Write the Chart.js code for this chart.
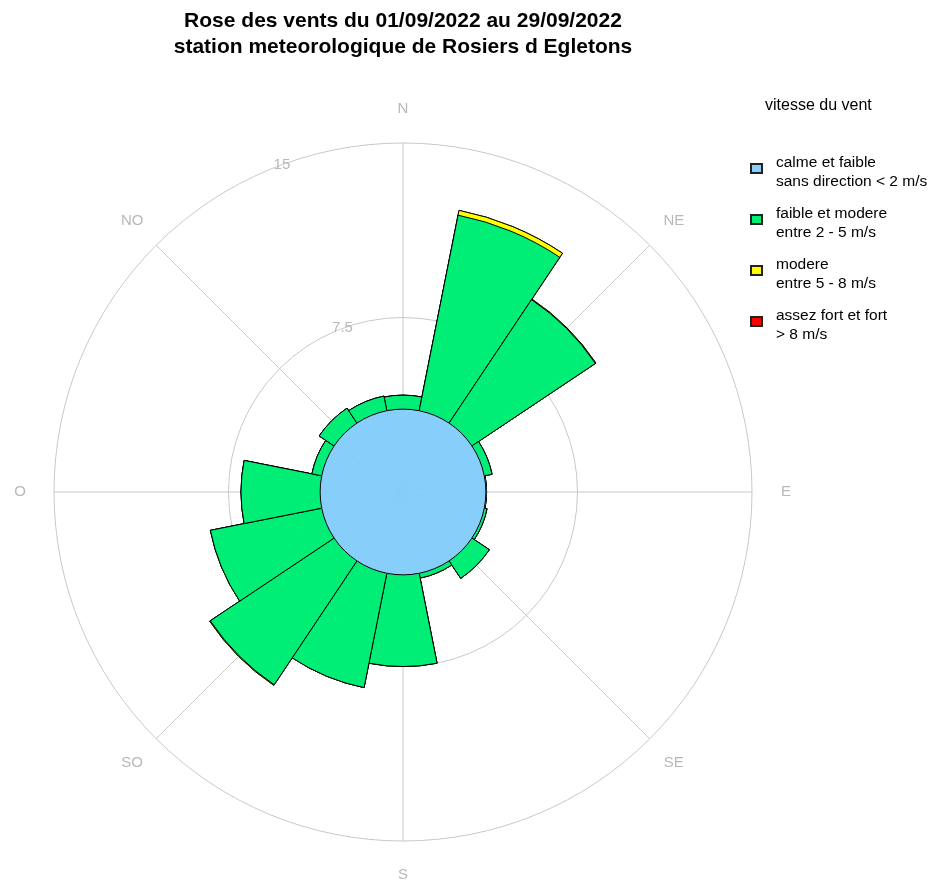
<!DOCTYPE html>
<html>
<head>
<meta charset="utf-8">
<title>Rose des vents</title>
<script src="https://cdn.jsdelivr.net/npm/chart.js@4.4.1/dist/chart.umd.min.js"></script>
<style>
  body { margin: 0; background: #fff; }
  #wrap { position: relative; width: 932px; height: 884px; }
  #legend { position: absolute; left: 750px; top: 95px; font-family: "Liberation Sans", Arial, sans-serif; color: #000; }
  #legend .head { position: absolute; left: 15px; top: 0; font-size: 16px; line-height: 19px; white-space: nowrap; }
  #legend .item { position: absolute; left: 0; width: 180px; }
  #legend .sw { position: absolute; left: 0; top: 11px; width: 9px; height: 7px; border: 2px solid #222; }
  #legend .txt { position: absolute; left: 26px; top: 0; font-size: 15.5px; line-height: 19px; white-space: nowrap; }
</style>
</head>
<body>
<div id="wrap">
  <canvas id="rose" width="932" height="884"></canvas>
  <div id="legend"><div class="head">vitesse du vent</div></div>
</div>
<script>
// secteurs de 22.5 degres, dans le sens horaire depuis le nord
var directions = ["N", "NNE", "NE", "ENE", "E", "ESE", "SE", "SSE", "S", "SSO", "SO", "OSO", "O", "ONO", "NO", "NNO"];
// frequences en %
var calmeTotal = 57.0; // calme, reparti sur les 16 secteurs
var faibleModere = [0.60, 8.57, 6.38, 0.34, 0.03, 0.12, 0.90, 0.21, 3.94, 5.01, 6.40, 4.88, 3.40, 0.43, 0.77, 0.64];
var modere       = [0, 0.21, 0.03, 0, 0, 0, 0, 0, 0, 0, 0.03, 0, 0, 0, 0, 0];
var fort         = [0, 0, 0, 0, 0, 0, 0, 0, 0, 0, 0, 0, 0, 0, 0, 0];
var axisLabels = ["N", "NE", "E", "SE", "S", "SO", "O", "NO"];
var rTicks = [7.5, 15];

var classLabels = [
  ["calme et faible", "sans direction < 2 m/s"],
  ["faible et modere", "entre 2 - 5 m/s"],
  ["modere", "entre 5 - 8 m/s"],
  ["assez fort et fort", "> 8 m/s"]
];
var classColors = ["#87CEFA", "#00EE76", "#FFFF00", "#FF0000"];

// empilement : chaque classe part du haut de la precedente
var calmeSecteur = directions.map(function(){ return calmeTotal / directions.length; });
var cumul = [calmeSecteur];
[faibleModere, modere, fort].forEach(function(serie, k){
  cumul.push(serie.map(function(v, i){ return cumul[k][i] + v; }));
});

var datasets = cumul.map(function(vals, k){
  return {
    label: classLabels[k].join(' '),
    data: vals,
    backgroundColor: classColors[k],
    borderColor: k === 0 ? classColors[0] : '#000',
    borderWidth: 1
  };
});

var font = '"Liberation Sans", Arial, sans-serif';

var rosePlugin = {
  id: 'rose',
  beforeDatasetsDraw: function(chart){
    var s = chart.scales.r, ctx = chart.ctx;
    var R = s.getDistanceFromCenterForValue(s.max);
    ctx.save();
    ctx.strokeStyle = '#c8c8c8';
    ctx.lineWidth = 1;
    axisLabels.forEach(function(lab, k){
      var a = k * Math.PI / 4 - Math.PI / 2;
      ctx.beginPath();
      ctx.moveTo(s.xCenter, s.yCenter);
      ctx.lineTo(s.xCenter + R * Math.cos(a), s.yCenter + R * Math.sin(a));
      ctx.stroke();
    });
    ctx.fillStyle = '#b8b8b8';
    ctx.font = '15px ' + font;
    ctx.textAlign = 'center';
    ctx.textBaseline = 'middle';
    axisLabels.forEach(function(lab, k){
      var a = k * Math.PI / 4 - Math.PI / 2;
      ctx.fillText(lab, s.xCenter + (R + 34) * Math.cos(a), s.yCenter + (R + 34) * Math.sin(a));
    });
    var ta = -20.3 * Math.PI / 180 - Math.PI / 2;
    rTicks.forEach(function(v){
      var d = s.getDistanceFromCenterForValue(v);
      ctx.fillText(String(v), s.xCenter + d * Math.cos(ta), s.yCenter + d * Math.sin(ta));
    });
    ctx.restore();
  },
  afterDatasetsDraw: function(chart){
    var s = chart.scales.r, ctx = chart.ctx;
    ctx.save();
    ctx.strokeStyle = '#000';
    ctx.lineWidth = 1;
    ctx.beginPath();
    ctx.arc(s.xCenter, s.yCenter, s.getDistanceFromCenterForValue(calmeSecteur[0]), 0, Math.PI * 2);
    ctx.stroke();
    ctx.restore();
  }
};

new Chart(document.getElementById('rose'), {
  type: 'polarArea',
  data: { labels: directions, datasets: datasets },
  options: {
    responsive: false,
    animation: false,
    layout: { padding: { left: 53, right: 179, top: 0, bottom: 42 } },
    plugins: {
      legend: { display: false },
      tooltip: { enabled: false },
      title: {
        display: true,
        text: ["Rose des vents du 01/09/2022 au 29/09/2022", "station meteorologique de Rosiers d Egletons"],
        color: '#000',
        font: { family: font, size: 21, weight: 'bold', lineHeight: 1.2 },
        padding: { top: 9, bottom: 83 }
      }
    },
    scales: {
      r: {
        min: 0,
        max: 15,
        startAngle: -11.25,
        ticks: { display: false, stepSize: 7.5 },
        grid: { color: '#c8c8c8', lineWidth: 1, circular: true },
        angleLines: { display: false },
        pointLabels: { display: false }
      }
    }
  },
  plugins: [rosePlugin]
});

// legende
var leg = document.getElementById('legend');
classLabels.forEach(function(lines, i){
  var item = document.createElement('div');
  item.className = 'item';
  item.style.top = (57 + i * 51) + 'px';
  var sw = document.createElement('div');
  sw.className = 'sw';
  sw.style.background = classColors[i];
  var txt = document.createElement('div');
  txt.className = 'txt';
  txt.innerHTML = lines[0] + '<br>' + lines[1].replace('<', '&lt;').replace('>', '&gt;');
  item.appendChild(sw);
  item.appendChild(txt);
  leg.appendChild(item);
});
</script>
</body>
</html>
